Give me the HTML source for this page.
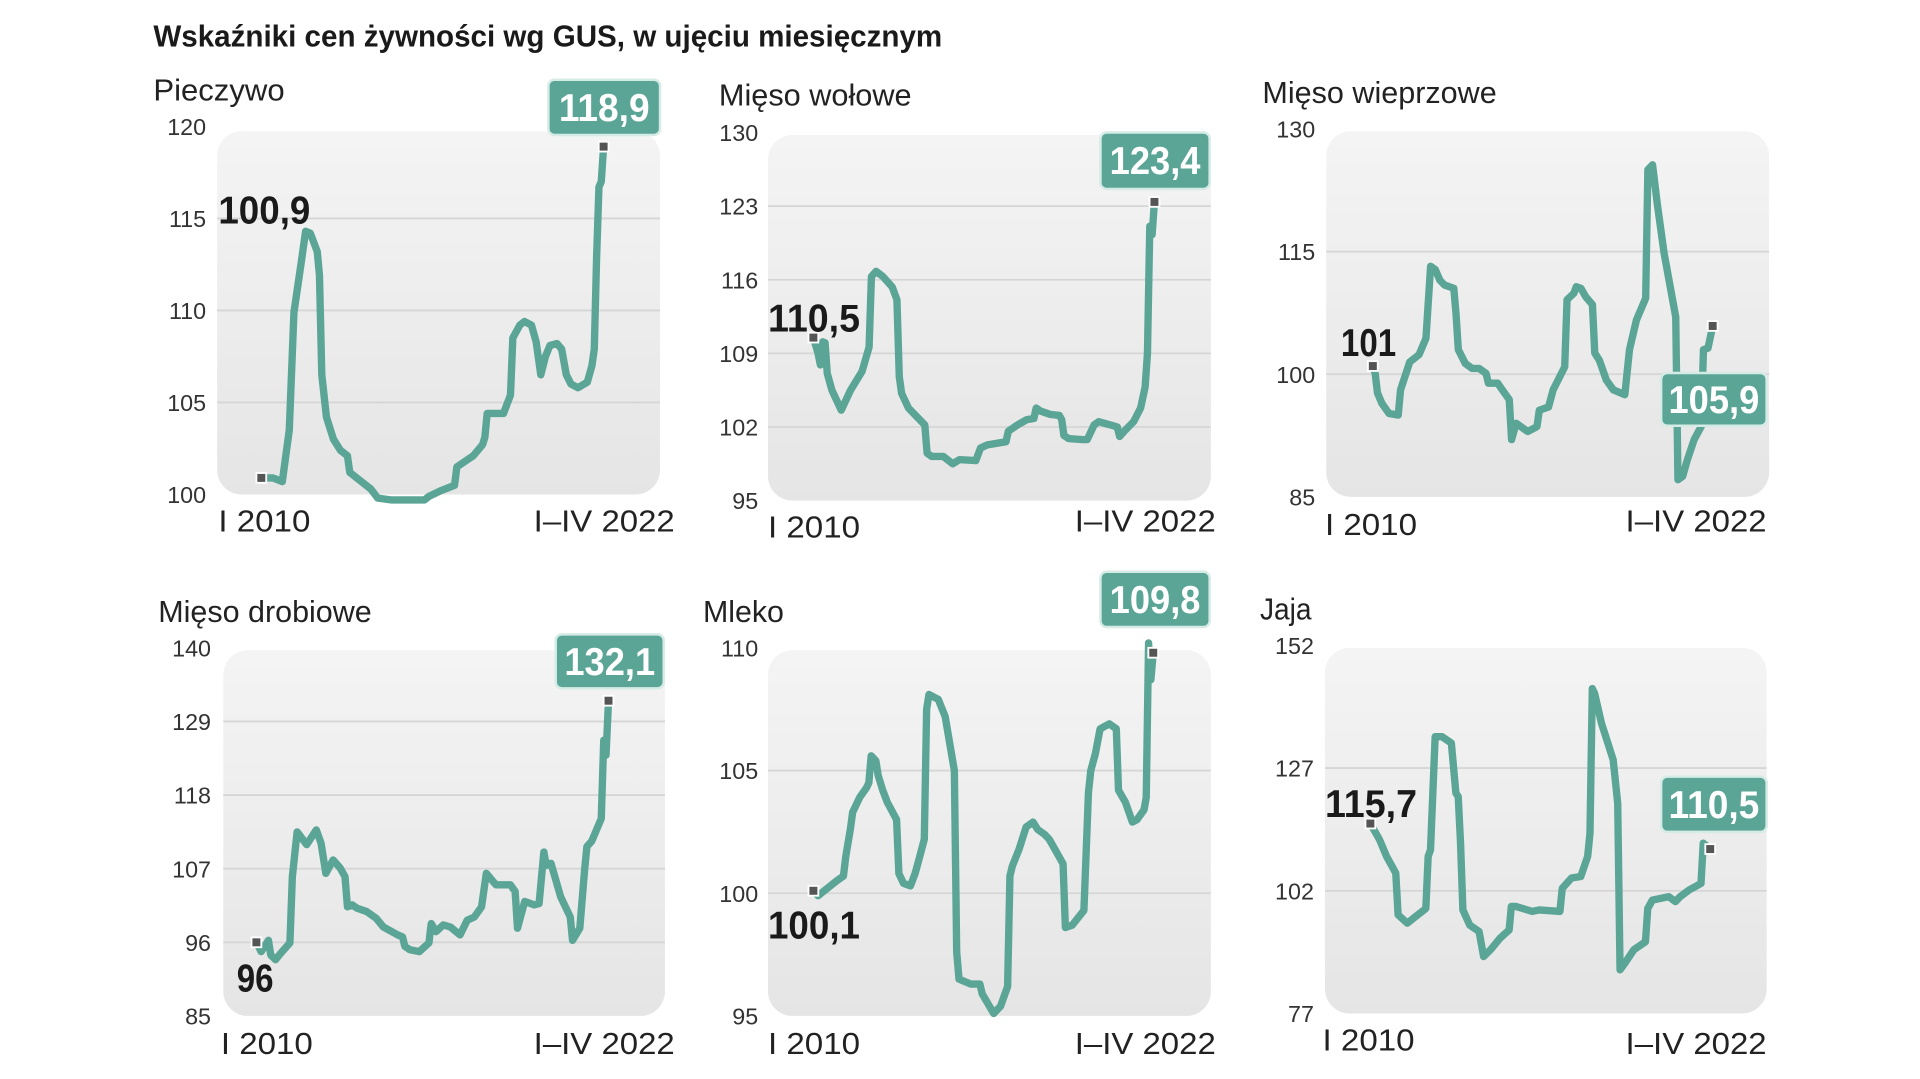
<!DOCTYPE html>
<html><head><meta charset="utf-8"><style>
html,body{margin:0;padding:0;background:#fff;width:1920px;height:1079px;overflow:hidden}
svg{display:block}
text{font-family:"Liberation Sans",sans-serif}
</style></head><body>
<svg id="chart" width="1920" height="1079" viewBox="0 0 1565 879.4" preserveAspectRatio="none" xmlns="http://www.w3.org/2000/svg">
<defs><linearGradient id="bgGrad" x1="0" y1="0" x2="0" y2="1"><stop offset="0" stop-color="#f4f4f4"/><stop offset="1" stop-color="#e5e5e5"/></linearGradient></defs>
<text x="125" y="38" font-size="25" font-weight="bold" fill="#1a1a1a" textLength="643" lengthAdjust="spacingAndGlyphs">Wskaźniki cen żywności wg GUS, w ujęciu miesięcznym</text>
</svg>
<script>
const breadMonths=[0,5,9,12,14,17,19,21,24,25,26,28,31,34,37,38,43,47,50,56,70,72,77,83,84,91,95,96,97,104,107,108,111,113,116,118,120,122,124,127,129,131,133,136,140,142,143,144,145,146,147];
const breadValues=[100.9,100.9,100.7,103.5,109.9,112.5,114.3,114.2,113.2,111.9,106.5,104.2,103.0,102.4,102.1,101.2,100.7,100.3,99.8,99.7,99.7,99.9,100.2,100.5,101.5,102.1,102.7,103.1,104.4,104.4,105.4,108.5,109.2,109.4,109.2,108.3,106.5,107.5,108.1,108.2,107.9,106.5,106.0,105.8,106.1,107.0,107.9,112.9,116.7,117.0,118.9];
const beefMonths=[0,2,3,4,5,6,8,12,16,21,24,25,27,30,34,36,37,38,41,48,49,51,56,60,63,70,72,75,83,84,88,92,95,96,98,102,106,107,108,110,116,118,121,123,128,131,132,134,138,141,143,144,145,146,147];
const beefValues=[110.5,109.0,107.9,110.1,110.0,107.1,105.5,103.6,105.5,107.3,109.6,116.3,116.8,116.3,115.3,114.1,106.8,105.2,103.8,102.2,99.5,99.2,99.2,98.5,98.9,98.8,100.0,100.3,100.6,101.6,102.2,102.7,102.8,103.8,103.5,103.2,103.1,102.7,101.2,100.9,100.8,100.8,102.2,102.5,102.2,102.0,101.1,101.6,102.5,103.8,105.8,109.0,121.1,120.3,123.4];
const porkMonths=[0,1,2,4,7,11,12,16,20,23,25,27,29,31,35,36,37,40,43,46,49,50,54,56,59,60,62,67,71,72,76,78,83,84,87,88,90,92,95,96,98,101,104,109,111,114,118,119,121,123,126,131,132,134,136,139,142,143,145,147];
const porkValues=[101.0,100.1,97.7,96.4,95.2,95.0,98.1,101.5,102.4,104.4,113.2,112.8,111.5,110.9,110.5,107.4,103.0,101.3,100.7,100.7,100.1,98.9,98.9,98.1,96.9,92.0,94.0,93.0,93.6,95.6,96.0,98.1,100.9,109.1,109.9,110.7,110.5,109.5,108.5,102.6,101.7,99.3,98.1,97.5,103.0,106.6,109.3,125.0,125.6,120.9,114.8,107.0,87.1,87.5,89.5,92.0,93.6,103.0,103.2,105.9];
const poultryMonths=[0,2,5,6,8,10,14,15,17,21,25,27,29,32,35,37,38,40,42,46,50,53,59,61,62,64,68,72,73,75,78,81,85,88,91,94,96,100,106,108,109,112,116,118,120,121,123,127,131,132,135,137,138,140,144,145,146,147];
const poultryValues=[96.0,94.6,96.3,94.1,93.4,94.3,95.9,105.8,112.5,110.6,112.8,110.8,106.3,108.3,107.1,105.8,101.3,101.6,101.1,100.6,99.6,98.3,97.1,96.8,95.4,94.9,94.6,95.9,98.8,97.6,98.6,98.3,97.1,99.3,99.8,101.3,106.3,104.6,104.6,103.6,98.1,102.1,101.6,101.8,109.5,107.5,107.8,102.8,99.8,96.3,98.1,106.8,110.3,111.1,114.5,126.2,124.0,132.1];
const milkMonths=[0,2,6,10,13,14,16,17,20,23,24,25,27,28,30,32,36,37,39,42,44,46,48,49,50,54,57,61,62,63,68,72,73,78,81,84,85,86,89,92,95,97,100,102,105,108,109,112,117,119,120,122,124,128,131,132,135,138,140,143,144,145,146,147];
const milkValues=[100.1,99.9,100.2,100.5,100.7,101.5,102.6,103.3,103.9,104.3,104.5,105.6,105.4,104.8,104.2,103.7,103.0,100.8,100.4,100.3,100.8,101.5,102.2,107.5,108.1,107.9,107.2,105.0,97.6,96.5,96.3,96.3,95.9,95.1,95.4,96.2,100.7,101.1,101.8,102.7,102.9,102.6,102.4,102.2,101.7,101.2,98.6,98.7,99.3,104.1,105.0,105.7,106.7,106.9,106.7,104.2,103.7,102.9,103.0,103.4,103.9,110.2,108.7,109.8];
const eggMonths=[0,4,7,11,12,16,24,25,26,28,31,35,37,38,39,40,43,47,49,52,56,60,61,63,70,73,82,83,87,91,94,95,96,97,100,105,107,108,110,114,119,120,122,129,132,134,138,143,144,147];
const eggValues=[115.7,112.4,109.0,105.6,97.1,95.4,98.4,109.0,110.3,133.4,133.4,132.1,121.9,121.2,111.7,98.1,95.0,93.7,88.6,90.0,92.3,94.0,98.8,98.8,97.8,98.1,97.8,102.5,104.6,104.9,109.0,113.7,143.2,142.2,136.1,128.7,119.8,85.9,87.2,90.0,91.6,98.4,100.1,100.8,99.8,100.8,102.2,103.5,111.7,110.5];
const breadTicks=[100,105,110,115,120];
const beefTicks=[95,102,109,116,123,130];
const porkTicks=[85,100,115,130];
const poultryTicks=[85,96,107,118,129,140];
const milkTicks=[95,100,105,110];
const eggTicks=[77,102,127,152];
const titles=["Pieczywo","Mięso wołowe","Mięso wieprzowe","Mięso drobiowe","Mleko","Jaja"];
const startLabels=["100,9","110,5","101","96","100,1","115,7"];
const endLabels=["118,9","123,4","105,9","132,1","109,8","110,5"];

const NS="http://www.w3.org/2000/svg";
const svg=document.getElementById('chart');
function mk(tag,attrs,parent){const e=document.createElementNS(NS,tag);for(const k in attrs)e.setAttribute(k,attrs[k]);(parent||svg).appendChild(e);return e;}
const panels=[
 {key:'bread',m:breadMonths,v:breadValues,t:breadTicks,bg:[177,107,361,296],yB:403,yT:103,x0:213,x1:492,tickX:168,title:[125,82,107],xl:[178,433,435,433],sl:[178,182],eb:[447,65,91,45]},
 {key:'beef',m:beefMonths,v:beefValues,t:beefTicks,bg:[626,110,361,298],yB:408,yT:108,x0:663,x1:941,tickX:618,title:[586,86,157],xl:[626,438,876,433],sl:[626,270],eb:[897,108,89,46]},
 {key:'pork',m:porkMonths,v:porkValues,t:porkTicks,bg:[1081,107,361,298],yB:405,yT:105,x0:1119,x1:1396,tickX:1072,title:[1029,84,191],xl:[1080,436,1325,433],sl:[1093,290],eb:[1354,304,86,43]},
 {key:'poultry',m:poultryMonths,v:poultryValues,t:poultryTicks,bg:[182,530,360,298],yB:828,yT:528,x0:209,x1:496,tickX:172,title:[129,507,174],xl:[180,859,435,859],sl:[193,808],eb:[453,517,88,44]},
 {key:'milk',m:milkMonths,v:milkValues,t:milkTicks,bg:[626,530,361,298],yB:828,yT:528,x0:663,x1:940,tickX:618,title:[573,507,66],xl:[626,859,876,859],sl:[626,765],eb:[897,466,89,45]},
 {key:'eggs',m:eggMonths,v:eggValues,t:eggTicks,bg:[1080,528,360,298],yB:826,yT:526,x0:1117,x1:1394,tickX:1071,title:[1027,505,42],xl:[1078,856,1325,859],sl:[1080,666],eb:[1354,633,86,45]}
];
panels.forEach((p,i)=>{
 const g=mk('g',{});
 
 
 const tMin=p.t[0],tMax=p.t[p.t.length-1];
 const ys=v=>p.yB-(v-tMin)/(tMax-tMin)*(p.yB-p.yT);
 const xs=m=>p.x0+m/147*(p.x1-p.x0);
 const bg=mk('rect',{x:p.bg[0],y:p.bg[1],width:p.bg[2],height:p.bg[3],rx:20,fill:'url(#bgGrad)'},g);
 
 
 p.t.forEach(tv=>{
  const y=ys(tv);
  if(y>p.bg[1]+4&&y<p.bg[1]+p.bg[3]-4){
   const gl=mk('line',{x1:p.bg[0],x2:p.bg[0]+p.bg[2],y1:y,y2:y,stroke:'#d6d6d6','stroke-width':1.5},g);
   
   
  }
  const tl=mk('text',{x:p.tickX,y:y+7,'text-anchor':'end','font-size':19,fill:'#333'},g);
  
  
  tl.textContent=tv;
 });
 const tt=mk('text',{x:p.title[0],y:p.title[1],'font-size':25,fill:'#222',textLength:p.title[2],lengthAdjust:'spacingAndGlyphs'},g);
 
 
 tt.textContent=titles[i];
 const xa=mk('text',{x:p.xl[0],y:p.xl[1],'font-size':25,fill:'#222',textLength:75,lengthAdjust:'spacingAndGlyphs'},g);
 
 
 xa.textContent='I 2010';
 const xb=mk('text',{x:p.xl[2],y:p.xl[3],'font-size':25,fill:'#222',textLength:115,lengthAdjust:'spacingAndGlyphs'},g);
 
 
 xb.textContent='I–IV 2022';
 let d='';
 p.m.forEach((m,j)=>{d+=(j?'L':'M')+xs(m).toFixed(1)+' '+ys(p.v[j]).toFixed(1);});
 const ln=mk('path',{d:d,fill:'none',stroke:'#5ba596','stroke-width':6,'stroke-linejoin':'round','stroke-linecap':'round'},g);
 
 
 [[p.m[0],p.v[0],'start'],[p.m[p.m.length-1],p.v[p.v.length-1],'end']].forEach(a=>{
  const mkr=mk('rect',{x:xs(a[0])-4,y:ys(a[1])-4,width:8,height:8,fill:'#555',stroke:'#fff','stroke-width':1.5},g);
  
  
 });
 const sl=mk('text',{x:p.sl[0],y:p.sl[1],'font-size':32,'font-weight':'bold',fill:'#1a1a1a',textLength:startLabels[i].length*15,lengthAdjust:'spacingAndGlyphs'},g);
 
 
 sl.textContent=startLabels[i];
 const bx=mk('rect',{x:p.eb[0],y:p.eb[1],width:p.eb[2],height:p.eb[3],rx:5,fill:'#5ba596',stroke:'#d5ebe6','stroke-width':2},g);
 
 
 const et=mk('text',{x:p.eb[0]+p.eb[2]/2,y:p.eb[1]+p.eb[3]/2+11,'text-anchor':'middle','font-size':32,'font-weight':'bold',fill:'#fff',textLength:74,lengthAdjust:'spacingAndGlyphs'},g);
 
 
 et.textContent=endLabels[i];
});
</script>
</body></html>
